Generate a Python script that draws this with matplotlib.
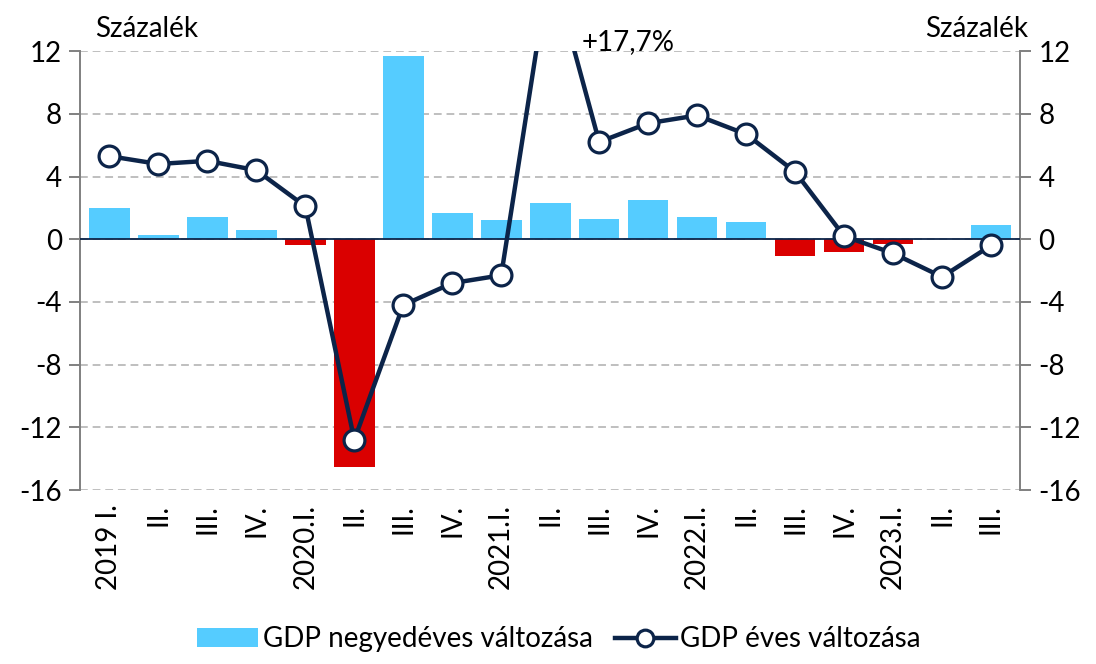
import matplotlib

matplotlib.use("Agg")
import matplotlib.pyplot as plt
from matplotlib.lines import Line2D
from matplotlib.patches import Patch

plt.rcParams["font.family"] = ["Lato", "DejaVu Sans"]
plt.rcParams["axes.unicode_minus"] = False

quarters = [
    "2019 I.", "II.", "III.", "IV.",
    "2020.I.", "II.", "III.", "IV.",
    "2021.I.", "II.", "III.", "IV.",
    "2022.I.", "II.", "III.", "IV.",
    "2023.I.", "II.", "III.",
]
# quarter-on-quarter change (bars)
qoq = [2.0, 0.3, 1.4, 0.6, -0.4, -14.5, 11.7, 1.7, 1.2, 2.3,
       1.3, 2.5, 1.4, 1.1, -1.1, -0.8, -0.3, 0.0, 0.9]
# year-on-year change (line)
yoy = [5.3, 4.8, 5.0, 4.4, 2.1, -12.8, -4.2, -2.8, -2.3, 17.7,
       6.2, 7.4, 7.9, 6.7, 4.3, 0.2, -0.9, -2.4, -0.4]

BLUE = "#55CCFF"
RED = "#DA0000"
NAVY = "#0C2449"
GRID = "#BFBFBF"
SPINE = "#808080"
FS = 20

fig = plt.figure(figsize=(10.96, 6.64), dpi=100)
ax = fig.add_axes((0.073, 0.262, 0.858, 0.661))

x = list(range(len(quarters)))
colors = [BLUE if v >= 0 else RED for v in qoq]
ax.bar(x, qoq, width=0.83, color=colors, zorder=2)
ax.axhline(0, color=NAVY, lw=1.3, zorder=3)
ax.plot(x, yoy, color=NAVY, lw=3.2, marker="o", ms=15, mfc="white",
        mec=NAVY, mew=2.3, zorder=4)

ax.set_xlim(-0.6, len(quarters) - 0.4)
ax.set_ylim(-16, 12)
ax.set_yticks(range(-16, 13, 4))
ax.yaxis.grid(True, ls=(0, (4, 2.5)), color=GRID, lw=1.4, zorder=0)
ax.set_axisbelow(True)

ax.set_xticks(x)
ax.set_xticklabels(quarters, rotation=90, fontsize=FS, va="top")
ax.tick_params(axis="x", length=0, pad=10)
ax.tick_params(axis="y", labelsize=FS, right=True, labelright=True,
               direction="out", length=8, width=1.4, color=SPINE, pad=5)

for side in ("top", "bottom"):
    ax.spines[side].set_visible(False)
for side in ("left", "right"):
    ax.spines[side].set_color(SPINE)
    ax.spines[side].set_linewidth(1.4)

fig.text(0.087, 0.957, "Százalék", fontsize=FS, ha="left", va="center")
fig.text(0.938, 0.957, "Százalék", fontsize=FS, ha="right", va="center")
ax.text(9.65, 12.55, "+17,7%", fontsize=FS, ha="left", va="center",
        clip_on=False)

handles = [
    Patch(facecolor=BLUE, label="GDP negyedéves változása"),
    Line2D([], [], color=NAVY, lw=3.2, marker="o", ms=12, mfc="white",
           mec=NAVY, mew=2.3, label="GDP éves változása"),
]
fig.legend(handles=handles, loc="lower center", bbox_to_anchor=(0.51, -0.02),
           ncol=2, frameon=False, fontsize=FS, handlelength=2.2,
           handletextpad=0.15, columnspacing=0.8)

fig.savefig("out.png", dpi=100)
